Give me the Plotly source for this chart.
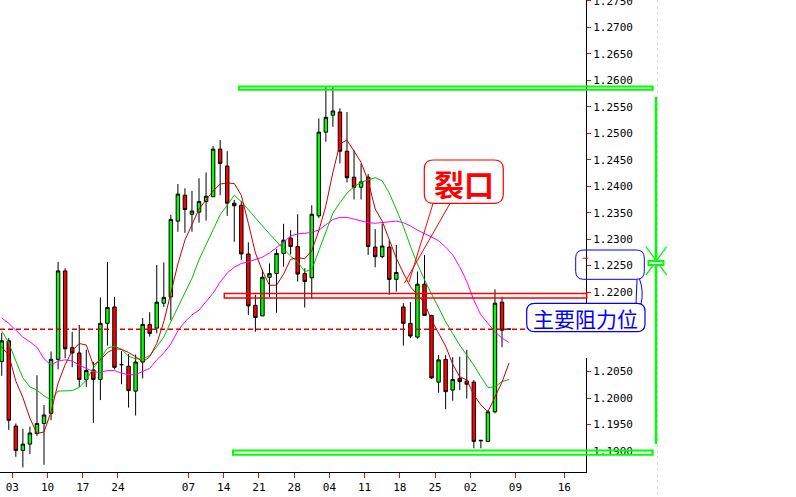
import plotly.graph_objects as go

# ---------------- data ----------------
open_ = [1.2069, 1.2108, 1.1947, 1.1901, 1.1913, 1.1933, 1.1952, 1.1971, 1.2073, 1.2240,
         1.2095, 1.2085, 1.2035, 1.2053, 1.2035, 1.2141, 1.2172, 1.2063, 1.2060, 1.2013,
         1.2068, 1.2139, 1.2132, 1.2179, 1.2191, 1.2334, 1.2383, 1.2347, 1.2351, 1.2371,
         1.2380, 1.2470, 1.2438, 1.2368, 1.2364, 1.2272, 1.2175, 1.2155, 1.2228, 1.2235,
         1.2273, 1.2302, 1.2286, 1.2235, 1.2227, 1.2344, 1.2502, 1.2534, 1.2540, 1.2466,
         1.2417, 1.2398, 1.2417, 1.2285, 1.2267, 1.2285, 1.2224, 1.2172, 1.2141, 1.2115,
         1.2215, 1.2156, 1.2030, 1.2073, 1.2015, 1.2037, 1.2032, 1.2030, 1.1919, 1.1918,
         1.1974, 1.2181, 1.2130]
high = [1.2123, 1.2113, 1.1952, 1.1942, 1.1946, 1.2043, 1.1987, 1.2088, 1.2257, 1.2245,
        1.2125, 1.2138, 1.2091, 1.2068, 1.2190, 1.2257, 1.2191, 1.2089, 1.2083, 1.2082,
        1.2151, 1.2162, 1.2251, 1.2256, 1.2346, 1.2404, 1.2396, 1.2391, 1.2415, 1.2426,
        1.2476, 1.2487, 1.2466, 1.2374, 1.2372, 1.2294, 1.2195, 1.2242, 1.2254, 1.2281,
        1.2329, 1.2317, 1.2347, 1.2245, 1.2364, 1.2528, 1.2587, 1.2587, 1.2547, 1.2540,
        1.2468, 1.2443, 1.2423, 1.2319, 1.2329, 1.2298, 1.2289, 1.2179, 1.2181, 1.2239,
        1.2270, 1.2157, 1.2081, 1.2081, 1.2077, 1.2078, 1.2091, 1.2034, 1.1921, 1.1977,
        1.2205, 1.2191, 1.2130]
low = [1.2042, 1.1940, 1.1889, 1.1869, 1.1894, 1.1928, 1.1874, 1.1958, 1.2054, 1.2075,
       1.2058, 1.2021, 1.2021, 1.1953, 1.1996, 1.2099, 1.2054, 1.2026, 1.1982, 1.1967,
       1.2037, 1.2116, 1.2122, 1.2172, 1.2147, 1.2314, 1.2312, 1.2314, 1.2331, 1.2335,
       1.2380, 1.2383, 1.2344, 1.2295, 1.2261, 1.2157, 1.2125, 1.2155, 1.2191, 1.2161,
       1.2248, 1.2271, 1.2220, 1.2171, 1.2188, 1.2340, 1.2484, 1.2512, 1.2443, 1.2407,
       1.2375, 1.2375, 1.2270, 1.2247, 1.2264, 1.2195, 1.2201, 1.2099, 1.2113, 1.2112,
       1.2155, 1.2036, 1.2010, 1.1979, 1.1995, 1.2015, 1.1999, 1.1905, 1.1905, 1.1917,
       1.1971, 1.2096, 1.2130]
close = [1.2108, 1.1958, 1.1901, 1.1913, 1.1934, 1.1952, 1.1968, 1.2073, 1.2240, 1.2093,
         1.2085, 1.2035, 1.2052, 1.2035, 1.2141, 1.2171, 1.2058, 1.2063, 1.2014, 1.2068,
         1.2139, 1.2122, 1.2181, 1.2190, 1.2337, 1.2385, 1.2356, 1.2353, 1.2371, 1.2381,
         1.2470, 1.2443, 1.2368, 1.2363, 1.2272, 1.2174, 1.2152, 1.2228, 1.2235, 1.2273,
         1.2298, 1.2286, 1.2234, 1.2220, 1.2347, 1.2502, 1.2530, 1.2542, 1.2466, 1.2416,
         1.2398, 1.2408, 1.2286, 1.2267, 1.2287, 1.2224, 1.2237, 1.2141, 1.2117, 1.2215,
         1.2156, 1.2038, 1.2072, 1.2012, 1.2035, 1.2031, 1.2026, 1.1918, 1.1920, 1.1974,
         1.2179, 1.2128, 1.2130]

ma_fast = [1.2096, 1.2081, 1.2032, 1.2001, 1.1962, 1.1933, 1.1936, 1.1974, 1.2028, 1.2063,
           1.2089, 1.2103, 1.2100, 1.2062, 1.2072, 1.2086, 1.2093, 1.2092, 1.2086, 1.2078,
           1.2068, 1.2078, 1.2103, 1.2144, 1.2198, 1.2253, 1.2298, 1.2329, 1.2357, 1.2374,
           1.2391, 1.2404, 1.2406, 1.2405, 1.2383, 1.2330, 1.2274, 1.2240, 1.2213, 1.2213,
           1.2234, 1.2262, 1.2265, 1.2263, 1.2278, 1.2316, 1.2363, 1.2426, 1.2480, 1.2487,
           1.2467, 1.2445, 1.2410, 1.2357, 1.2334, 1.2297, 1.2264, 1.2236, 1.2210, 1.2195,
           1.2179, 1.2147, 1.2121, 1.2098, 1.2064, 1.2040, 1.2034, 1.2006, 1.1987, 1.1974,
           1.2002, 1.2030, 1.2066]
ma_mid = [1.2127, 1.2104, 1.2070, 1.2038, 1.2021, 1.2015, 1.2004, 1.1996, 1.2013, 1.2014,
          1.2014, 1.2020, 1.2034, 1.2056, 1.2076, 1.2094, 1.2098, 1.2092, 1.2079, 1.2074,
          1.2074, 1.2080, 1.2097, 1.2115, 1.2144, 1.2172, 1.2201, 1.2226, 1.2261, 1.2289,
          1.2320, 1.2346, 1.2364, 1.2383, 1.2371, 1.2355, 1.2340, 1.2325, 1.2310, 1.2295,
          1.2281, 1.2268, 1.2257, 1.2239, 1.2242, 1.2278, 1.2314, 1.2349, 1.2369, 1.2387,
          1.2399, 1.2407, 1.2412, 1.2416, 1.2410, 1.2387, 1.2356, 1.2324, 1.2287, 1.2253,
          1.2223, 1.2197, 1.2172, 1.2144, 1.2122, 1.2100, 1.2081, 1.2062, 1.2040, 1.2020,
          1.2021, 1.2031, 1.2035]
ma_slow = [1.2151, 1.2141, 1.2128, 1.2115, 1.2106, 1.2096, 1.2074, 1.2062, 1.2070, 1.2072,
           1.2070, 1.2062, 1.2056, 1.2050, 1.2048, 1.2052, 1.2052, 1.2047, 1.2044, 1.2044,
           1.2050, 1.2056, 1.2072, 1.2085, 1.2102, 1.2127, 1.2144, 1.2157, 1.2166, 1.2181,
           1.2198, 1.2219, 1.2236, 1.2247, 1.2254, 1.2257, 1.2261, 1.2266, 1.2274, 1.2284,
           1.2294, 1.2306, 1.2310, 1.2311, 1.2313, 1.2317, 1.2327, 1.2337, 1.2341, 1.2341,
           1.2338, 1.2334, 1.2331, 1.2330, 1.2331, 1.2332, 1.2334, 1.2331, 1.2325, 1.2317,
           1.2311, 1.2304, 1.2297, 1.2285, 1.2270, 1.2248, 1.2220, 1.2185, 1.2157, 1.2140,
           1.2125, 1.2113, 1.2105]

week_labels = ["03", "10", "17", "24", "07", "14", "21", "28", "04", "11", "18", "25", "02", "09", "16"]
week_first_bar = [2, 7, 12, 17, 27, 32, 37, 42, 47, 52, 57, 62, 67, 73.4, 80.35]

price_ticks = [1.1900, 1.1950, 1.2000, 1.2050, 1.2200, 1.2250, 1.2300, 1.2350, 1.2400,
               1.2450, 1.2500, 1.2550, 1.2600, 1.2650, 1.2700, 1.2750]

resistance_band = [1.2582, 1.2588]
support_band = [1.1893, 1.1901]
gap_band = [1.21889, 1.21974]
last_price = 1.2130
ask_price = 1.2264

gap_label = "裂口"
resistance_label = "主要阻力位"

# ---------------- figure ----------------
W, H = 796, 497
PW, PH = 586, 472  # plot area in pixels (margins l=0, t=0)

bars = list(range(len(open_)))


def X(px):
    return px / PW


def Y(py):
    return 1 - py / PH


def rrect(x0, y0, x1, y1, r):
    return " ".join([
        f"M {X(x0 + r)},{Y(y0)}", f"L {X(x1 - r)},{Y(y0)}",
        f"Q {X(x1)},{Y(y0)} {X(x1)},{Y(y0 + r)}",
        f"L {X(x1)},{Y(y1 - r)}", f"Q {X(x1)},{Y(y1)} {X(x1 - r)},{Y(y1)}",
        f"L {X(x0 + r)},{Y(y1)}", f"Q {X(x0)},{Y(y1)} {X(x0)},{Y(y1 - r)}",
        f"L {X(x0)},{Y(y0 + r)}", f"Q {X(x0)},{Y(y0)} {X(x0 + r)},{Y(y0)}", "Z"])


fig = go.Figure()
fig.add_trace(go.Candlestick(
    x=bars, open=open_, high=high, low=low, close=close,
    increasing=dict(fillcolor="#00FF00", line=dict(color="#000000", width=1)),
    decreasing=dict(fillcolor="#FF0000", line=dict(color="#000000", width=1)),
    whiskerwidth=0, showlegend=False, hoverinfo="skip"))
for vals, col in [(ma_slow, "#FF00FF"), (ma_mid, "#00C000"), (ma_fast, "#C80000")]:
    fig.add_trace(go.Scatter(x=bars, y=vals, mode="lines",
                             line=dict(color=col, width=1),
                             showlegend=False, hoverinfo="skip"))

GREEN = "#00FF00"
RED = "#FF0000"
BLUE = "#0000FF"
shapes = []
# gap zone
shapes.append(dict(type="rect", xref="paper", yref="y", x0=X(224.3), x1=X(586.7),
                   y0=gap_band[0], y1=gap_band[1], line=dict(color=RED, width=1.5),
                   fillcolor="rgba(0,0,0,0)", layer="above"))
# last price dashed line
shapes.append(dict(type="line", xref="paper", yref="y", x0=0, x1=1, y0=last_price, y1=last_price,
                   line=dict(color="#E00000", width=1.5, dash="5px,3px"), layer="above"))
# resistance / support bands
shapes.append(dict(type="rect", xref="paper", yref="y", x0=X(239), x1=X(652.7),
                   y0=resistance_band[0], y1=resistance_band[1],
                   line=dict(color=GREEN, width=2), fillcolor="rgba(0,0,0,0)", layer="above"))
shapes.append(dict(type="rect", xref="paper", yref="y", x0=X(233), x1=X(652.7),
                   y0=support_band[0], y1=support_band[1],
                   line=dict(color=GREEN, width=2), fillcolor="rgba(0,0,0,0)", layer="above"))
# ask mark on axis
shapes.append(dict(type="line", xref="paper", yref="y", x0=X(582.7), x1=X(588.3),
                   y0=ask_price, y1=ask_price, line=dict(color=RED, width=1), layer="above"))
# faint dotted vertical guide
shapes.append(dict(type="line", xref="paper", yref="paper", x0=X(657.5), x1=X(657.5),
                   y0=Y(0), y1=Y(497), line=dict(color="#E6D8E6", width=1, dash="dot"),
                   layer="above"))
# green measuring line with X marker
shapes.append(dict(type="line", xref="paper", yref="paper", x0=X(656), x1=X(656),
                   y0=Y(97), y1=Y(444), line=dict(color=GREEN, width=2.5), layer="above"))
shapes.append(dict(type="line", xref="paper", yref="paper", x0=X(646), x1=X(666.7),
                   y0=Y(246.7), y1=Y(275), line=dict(color=GREEN, width=1.3), layer="above"))
shapes.append(dict(type="line", xref="paper", yref="paper", x0=X(666.7), x1=X(646),
                   y0=Y(246.7), y1=Y(275), line=dict(color=GREEN, width=1.3), layer="above"))
shapes.append(dict(type="rect", xref="paper", yref="paper", x0=X(648.5), x1=X(663.5),
                   y0=Y(261), y1=Y(265), line=dict(color=GREEN, width=2),
                   fillcolor="white", layer="above"))
# cover for the axis behind the label box
shapes.append(dict(type="rect", xref="paper", yref="paper", x0=X(580), x1=X(600),
                   y0=Y(330), y1=Y(358), line=dict(width=0), fillcolor="white", layer="above"))
# 1.2250 label box and callout tail
shapes.append(dict(type="path", xref="paper", yref="paper", path=rrect(575.7, 250, 644.3, 279.3, 8),
                   line=dict(color=BLUE, width=1), fillcolor="rgba(0,0,0,0)", layer="above"))
shapes.append(dict(type="path", xref="paper", yref="paper",
                   path=f"M {X(637)},{Y(279.5)} L {X(636)},{Y(304)} "
                        f"M {X(639.5)},{Y(279)} Q {X(644)},{Y(291)} {X(641)},{Y(304)}",
                   line=dict(color=BLUE, width=1), layer="above"))
shapes.append(dict(type="path", xref="paper", yref="paper", path=rrect(526.7, 303.3, 645, 331.7, 8),
                   line=dict(color=BLUE, width=1.2), fillcolor="white", layer="above"))
# gap callout
shapes.append(dict(type="line", xref="paper", yref="paper", x0=X(433), x1=X(409),
                   y0=Y(203.5), y1=Y(282), line=dict(color=RED, width=1), layer="above"))
shapes.append(dict(type="line", xref="paper", yref="paper", x0=X(450), x1=X(404.5),
                   y0=Y(203.5), y1=Y(283), line=dict(color=RED, width=1), layer="above"))
shapes.append(dict(type="path", xref="paper", yref="paper", path=rrect(424.3, 160, 503.3, 203.3, 9),
                   line=dict(color=RED, width=1.2), fillcolor="white", layer="above"))

annotations = [
    dict(text=f"<b>{gap_label}</b>", xref="paper", yref="paper", x=X(463.8), y=Y(183),
         showarrow=False, xanchor="center", yanchor="middle",
         font=dict(family="Noto Sans CJK SC", size=30, color=RED)),
    dict(text=resistance_label, xref="paper", yref="paper", x=X(585.8), y=Y(317.5),
         showarrow=False, xanchor="center", yanchor="middle",
         font=dict(family="Noto Sans CJK SC", size=21, color=BLUE)),
]

tickfont = dict(family="DejaVu Sans Mono", size=11, color="black")
fig.update_layout(
    width=W, height=H,
    margin=dict(l=0, r=W - PW, t=0, b=H - PH, pad=0),
    paper_bgcolor="white", plot_bgcolor="white", showlegend=False,
    shapes=shapes, annotations=annotations,
    xaxis=dict(range=[-0.246, 82.92], rangeslider=dict(visible=False),
               tickvals=[b - 0.5 for b in week_first_bar], ticktext=week_labels,
               ticks="outside", ticklen=5, tickcolor=RED, tickwidth=1,
               showline=True, linecolor="black", linewidth=1,
               showgrid=False, zeroline=False, automargin=False, tickfont=tickfont),
    yaxis=dict(side="right", range=[1.186031, 1.275155],
               tickvals=price_ticks, ticktext=[f"{v:.4f}" for v in price_ticks],
               ticks="outside", ticklen=4, tickcolor=RED, tickwidth=1,
               showline=True, linecolor="black", linewidth=1, ticklabeloverflow="allow",
               showgrid=False, zeroline=False, automargin=False, tickfont=tickfont),
)

fig.write_html("out.html", config={"displayModeBar": False},
               post_script="document.body.style.margin='0';")
